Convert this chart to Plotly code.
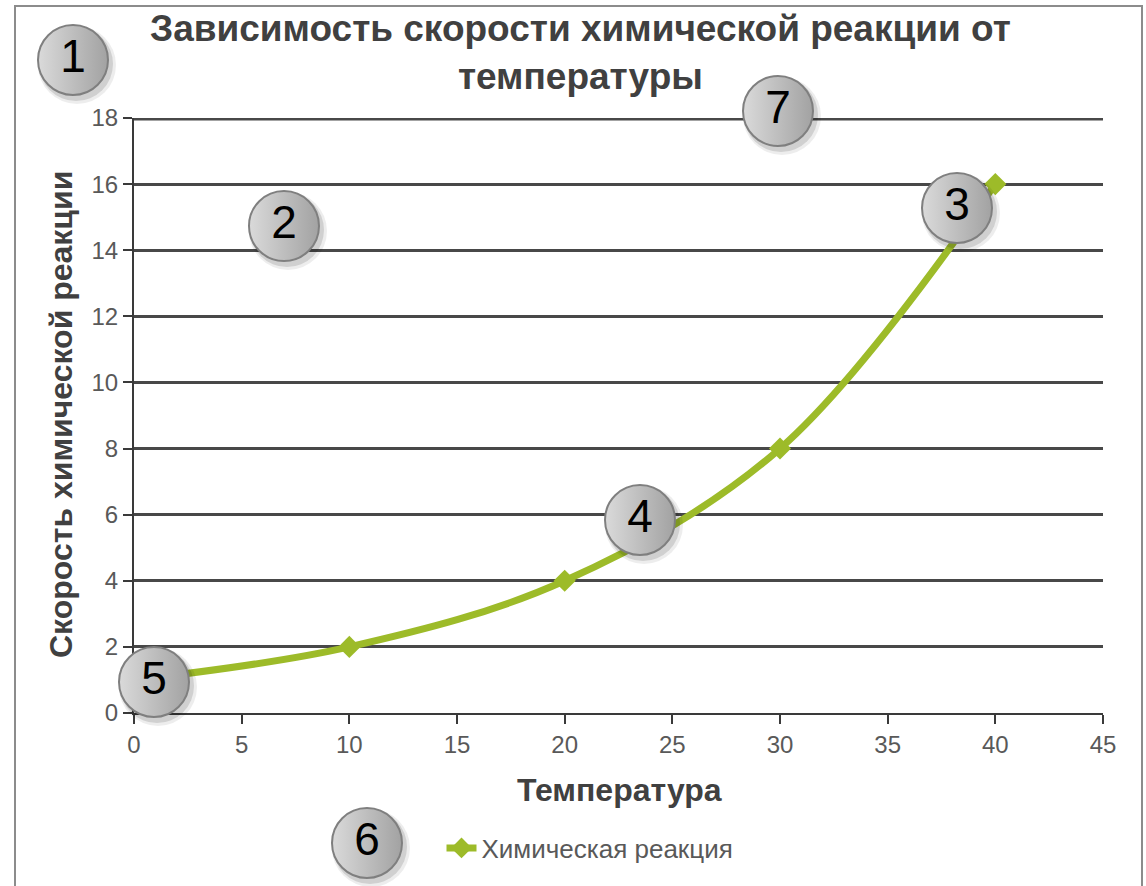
import plotly.graph_objects as go

# ---- data ----
temperature = [0, 10, 20, 30, 40]
reaction_rate = [1, 2, 4, 8, 16]
series_name = "Химическая реакция"
chart_title = "Зависимость скорости химической реакции от<br>температуры"
x_title = "Температура"
y_title = "Скорость химической реакции"
x_range = [0, 45]
y_range = [0, 18]

# numbered callout circles (figure pixel positions)
callout_labels = ["1", "2", "3", "4", "5", "6", "7"]
callout_x = [73, 284, 957, 640, 154, 367, 778]
callout_y = [60, 226, 208, 520, 682, 843, 111]

W, H = 1146, 886
PX_L, PX_R = 134, 1103
PY_T, PY_B = 118, 713

FONT = "Liberation Sans, Arial, sans-serif"
GREEN = "#9dbb29"
GRID = "#484848"

fig = go.Figure()

fig.add_trace(go.Scatter(
    x=temperature, y=reaction_rate, name=series_name,
    mode="lines+markers",
    line=dict(color=GREEN, width=7, shape="spline", smoothing=1.0),
    marker=dict(symbol="diamond", size=17, color=GREEN),
    xaxis="x", yaxis="y", showlegend=True,
))

# shadows of circles
for dx, dy, sz, op in [(4, 5, 78, 0.07), (3, 4, 74, 0.12)]:
    fig.add_trace(go.Scatter(
        x=[v + dx for v in callout_x], y=[v + dy for v in callout_y],
        mode="markers",
        marker=dict(size=sz, color=f"rgba(0,0,0,{op})", line=dict(width=0)),
        xaxis="x2", yaxis="y2", showlegend=False, hoverinfo="skip",
    ))

fig.add_trace(go.Scatter(
    x=callout_x, y=callout_y, text=callout_labels,
    mode="markers+text", textposition="middle center",
    textfont=dict(family=FONT, size=46, color="#000000"),
    marker=dict(size=70, color="#dadada",
                gradient=dict(type="horizontal", color="#a2a2a2"),
                line=dict(color="#7f7f7f", width=2)),
    xaxis="x2", yaxis="y2", showlegend=False, hoverinfo="skip",
))

fig.update_layout(
    width=W, height=H,
    margin=dict(l=0, r=0, t=0, b=0),
    paper_bgcolor="white", plot_bgcolor="rgba(0,0,0,0)",
    font=dict(family=FONT, color="#595959"),
    xaxis=dict(
        domain=[PX_L / W, PX_R / W], range=x_range, dtick=5, tick0=0,
        showgrid=False, zeroline=False,
        showline=True, linecolor="#3a3a3a", linewidth=2,
        ticks="outside", ticklen=9, tickwidth=2, tickcolor="#3a3a3a",
        tickfont=dict(size=24, color="#595959", family=FONT),
        automargin=False, anchor="y",
    ),
    yaxis=dict(
        domain=[(H - PY_B) / H, (H - PY_T) / H], range=y_range, dtick=2, tick0=0,
        showgrid=True, gridcolor=GRID, gridwidth=2.5, zeroline=False,
        showline=True, linecolor="#3a3a3a", linewidth=2,
        ticks="outside", ticklen=9, tickwidth=2, tickcolor="#3a3a3a",
        tickfont=dict(size=24, color="#595959", family=FONT),
        automargin=False, anchor="x",
    ),
    xaxis2=dict(domain=[0, 1], range=[0, W], visible=False,
                anchor="y2", fixedrange=True),
    yaxis2=dict(domain=[0, 1], range=[H, 0], visible=False,
                anchor="x2", fixedrange=True),
    showlegend=True,
    legend=dict(orientation="h", x=590 / W, y=1 - 848 / H,
                xanchor="center", yanchor="middle",
                font=dict(size=26, color="#595959", family=FONT),
                bgcolor="rgba(0,0,0,0)"),
    shapes=[
        dict(type="rect", xref="x2", yref="y2", x0=15, x1=1142, y0=6, y1=950,
             line=dict(color="#8c8c8c", width=2), fillcolor="rgba(0,0,0,0)",
             layer="below"),
        dict(type="line", xref="x", yref="y", x0=x_range[0], x1=x_range[1],
             y0=y_range[1], y1=y_range[1], line=dict(color=GRID, width=5),
             layer="below"),
    ],
    annotations=[
        dict(text="<b>" + chart_title + "</b>", xref="x2", yref="y2", x=580, y=52,
             showarrow=False, font=dict(size=37, color="#404040", family=FONT),
             xanchor="center", yanchor="middle"),
        dict(text="<b>" + x_title + "</b>", xref="x2", yref="y2", x=619, y=790,
             showarrow=False, font=dict(size=32, color="#404040", family=FONT),
             xanchor="center", yanchor="middle"),
        dict(text="<b>" + y_title + "</b>", xref="x2", yref="y2", x=61, y=415,
             showarrow=False, textangle=-90,
             font=dict(size=32, color="#404040", family=FONT),
             xanchor="center", yanchor="middle"),
    ],
)

fig.write_html("out.html")
